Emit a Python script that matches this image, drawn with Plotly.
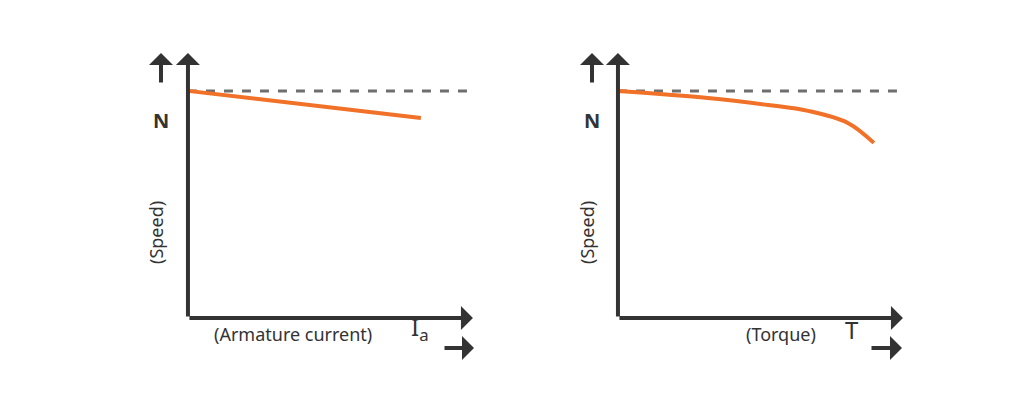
import plotly.graph_objects as go

W, H = 1024, 409
# normalized data: x fraction of full scale, y speed relative to no-load N
left_x = [0.0, 0.832]
left_y = [1.0, 0.881]
right_x = [0.0, 0.321, 0.536, 0.679, 0.821, 0.914]
right_y = [1.0, 0.969, 0.938, 0.912, 0.859, 0.771]
ref_x = [0.0, 1.0]
ref_y = [1.0, 1.0]

ORANGE = "#f07127"
DARK = "#333333"
GREY = "#6e6e6e"
FONT = "Noto Sans"

fig = go.Figure()
def px(v): return v / W
def py(v): return 1 - v / H

for i, (xs, ys) in enumerate([(left_x, left_y), (right_x, right_y)]):
    xa = "x" if i == 0 else "x2"
    ya = "y" if i == 0 else "y2"
    fig.add_trace(go.Scatter(x=ref_x, y=ref_y, mode="lines", xaxis=xa, yaxis=ya,
                             line=dict(color=GREY, width=3, dash="dash"), hoverinfo="skip"))
    fig.add_trace(go.Scatter(x=xs, y=ys, mode="lines", xaxis=xa, yaxis=ya,
                             line=dict(color=ORANGE, width=4, shape="spline"), hoverinfo="skip"))
    fig.add_annotation(x=0, y=1.167, ax=0, ay=0, xref=xa, yref=ya, axref=xa, ayref=ya,
                       showarrow=True, arrowhead=1, arrowsize=1, arrowwidth=4, arrowcolor=DARK, text="")
    fig.add_annotation(x=1.018, y=0, ax=0, ay=0, xref=xa, yref=ya, axref=xa, ayref=ya,
                       showarrow=True, arrowhead=1, arrowsize=1, arrowwidth=4, arrowcolor=DARK, text="")

axcommon = dict(showgrid=False, zeroline=False, showticklabels=False, showline=False, fixedrange=True)
fig.update_layout(
    width=W, height=H, margin=dict(l=0, r=0, t=0, b=0),
    paper_bgcolor="white", plot_bgcolor="white", showlegend=False,
    xaxis=dict(domain=[px(178), px(470)], range=[-0.007, 1.036], **axcommon),
    yaxis=dict(domain=[py(315), py(42)], range=[-0.022, 1.18], **axcommon),
    xaxis2=dict(domain=[px(608), px(900)], range=[-0.007, 1.036], anchor="y2", **axcommon),
    yaxis2=dict(domain=[py(315), py(42)], range=[-0.022, 1.18], anchor="x2", **axcommon),
    font=dict(family=FONT, color=DARK, size=18),
)

def text(x, y, t, size=18, angle=0, anchor="center"):
    fig.add_annotation(x=px(x), y=py(y), xref="paper", yref="paper", text=t, showarrow=False,
                       font=dict(size=size, family=FONT, color=DARK), textangle=angle, xanchor=anchor)

def arrow(x0, y0, x1, y1):
    fig.add_annotation(x=px(x1), y=py(y1), ax=x0 - x1, ay=y0 - y1, xref="paper", yref="paper",
                       axref="pixel", ayref="pixel", showarrow=True, arrowhead=1, arrowsize=1,
                       arrowwidth=4, arrowcolor=DARK, text="")

for xN, xs in [(153, 148), (584, 579)]:
    text(xN, 97, "<b>N</b>", 20)
    arrow(xN, 76, xN, 45)
    text(xs, 225, "(Speed)", 18, angle=-90)

text(285, 340, "(Armature current)", 18)
text(412, 340, "I<sub>a</sub>", 24)
arrow(435, 340, 466, 340)
text(773, 340, "(Torque)", 18)
text(844, 340, "T", 24)
arrow(862, 340, 894, 340)

fig.write_html("out.html")
